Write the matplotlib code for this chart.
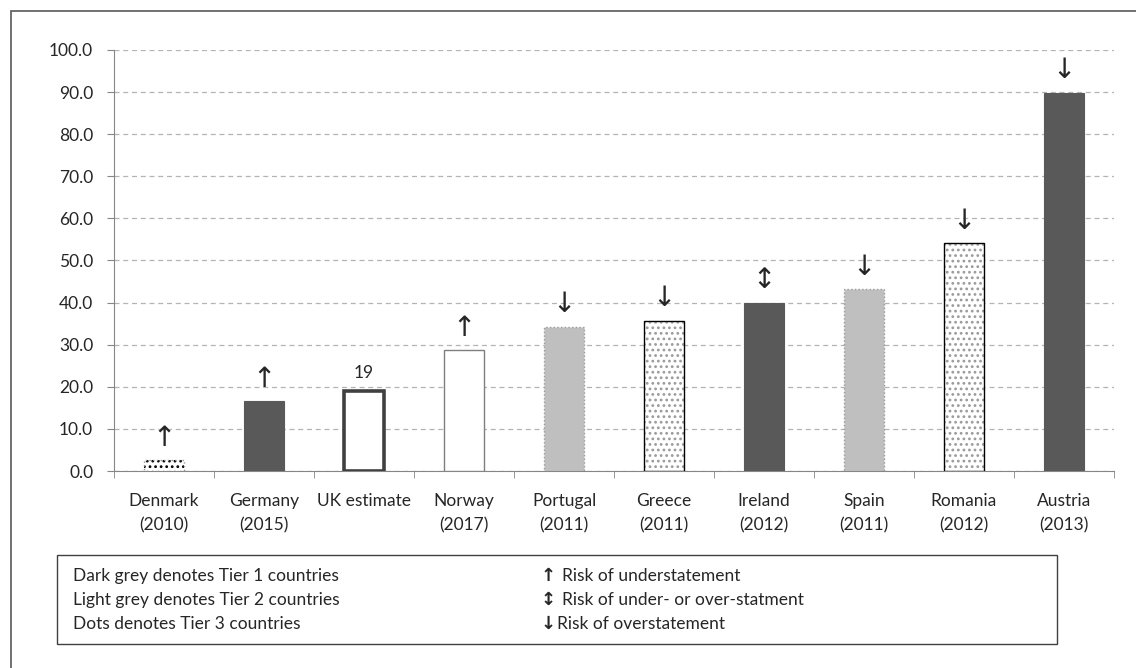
import matplotlib.pyplot as plt
from matplotlib.patches import Rectangle

# data
countries = ["Denmark\n(2010)", "Germany\n(2015)", "UK estimate", "Norway\n(2017)",
             "Portugal\n(2011)", "Greece\n(2011)", "Ireland\n(2012)", "Spain\n(2011)",
             "Romania\n(2012)", "Austria\n(2013)"]
values = [2.6, 16.6, 19.1, 28.7, 34.3, 35.7, 40.0, 43.2, 54.1, 89.9]
tiers = ["dots_sparse", "dark", "uk", "plain", "light", "dots", "dark", "light", "dots", "dark"]
risk = ["↑", "↑", "", "↑", "↓", "↓", "↕", "↓", "↓", "↓"]
yticks = [0, 10, 20, 30, 40, 50, 60, 70, 80, 90, 100]

plt.rcParams["font.family"] = ["Lato", "DejaVu Sans"]
plt.rcParams["hatch.linewidth"] = 1.2

W, H = 1136, 668
fig = plt.figure(figsize=(W / 100, H / 100), dpi=100)

# outer border
fig.patches.append(Rectangle((11 / W, -0.05), 1.1, (H - 11) / H + 0.05, transform=fig.transFigure,
                             fill=False, edgecolor="#595959", linewidth=1.2))

ax = fig.add_axes([114 / W, (H - 471) / H, 1000 / W, 421 / H])
x = list(range(len(values)))

for i, v in enumerate(values):
    t = tiers[i]
    if t == "dark":
        ax.bar(i, v, width=0.4, color="#595959", edgecolor="#595959", linewidth=0.8, zorder=3)
    elif t == "light":
        ax.bar(i, v, width=0.4, color="#bfbfbf", edgecolor="#9a9a9a", linewidth=1, linestyle=":", zorder=3)
    elif t == "uk":
        ax.bar(i, v, width=0.4, color="white", edgecolor="#404040", linewidth=2.6, zorder=3)
    elif t == "plain":
        ax.bar(i, v, width=0.4, color="white", edgecolor="#7f7f7f", linewidth=1, zorder=3)
    elif t == "dots":
        ax.bar(i, v, width=0.4, color="white", edgecolor="#9a9a9a", hatch="...", linewidth=0, zorder=3)
        ax.bar(i, v, width=0.4, fill=False, edgecolor="black", linewidth=1, zorder=4)
    elif t == "dots_sparse":
        ax.bar(i, v, width=0.4, color="white", edgecolor="black", hatch="...", linewidth=0, zorder=3)
        ax.bar(i, v, width=0.4, fill=False, edgecolor="#9a9a9a", linewidth=1, linestyle=":", zorder=4)
    if risk[i]:
        ax.annotate(risk[i], (i, v), xytext=(0, 6), textcoords="offset points",
                    ha="center", va="bottom", fontsize=20, family="DejaVu Sans", color="#262626")

# UK value label
uk = tiers.index("uk")
ax.annotate(f"{values[uk]:.0f}", (uk, values[uk]), xytext=(0, 7), textcoords="offset points",
            ha="center", va="bottom", fontsize=12.5, color="#262626")

ax.set_xlim(-0.5, len(values) - 0.5)
ax.set_ylim(0, 100)
ax.set_yticks(yticks)
ax.set_yticklabels([f"{t:.1f}" for t in yticks], fontsize=12.5, color="#262626")
ax.set_xticks(x)
ax.set_xticklabels(countries, fontsize=12.5, color="#262626", linespacing=1.6)
ax.tick_params(axis="x", length=0, pad=16)
ax.set_xticks([i + 0.5 for i in range(-1, len(values))], minor=True)
ax.tick_params(axis="x", which="minor", length=5, color="#868686")
ax.tick_params(axis="y", length=5, color="#868686", pad=10)

ax.grid(axis="y", color="#b4b4b4", linestyle=(0, (4, 3)), linewidth=0.9, zorder=0)
ax.set_axisbelow(True)
for s in ["top", "right"]:
    ax.spines[s].set_visible(False)
ax.spines["left"].set_color("#868686")
ax.spines["bottom"].set_color("#868686")

# explanation box
fig.patches.append(Rectangle((57 / W, (H - 644) / H), 1000 / W, 89 / H, transform=fig.transFigure,
                             fill=False, edgecolor="#404040", linewidth=1))
left_lines = ["Dark grey denotes Tier 1 countries", "Light grey denotes Tier 2 countries",
              "Dots denotes Tier 3 countries"]
arrow_keys = ["↑", "↕", "↓"]
right_lines = ["Risk of understatement", "Risk of under- or over-statment", "Risk of overstatement"]
text_x = [562, 562, 557]
for k, yy in enumerate([576, 600, 624]):
    fig.text(73 / W, (H - yy) / H, left_lines[k], fontsize=12.5, va="center", color="#262626")
    fig.text(541 / W, (H - yy) / H, arrow_keys[k], fontsize=13, va="center", family="DejaVu Sans",
             weight="bold", color="#262626")
    fig.text(text_x[k] / W, (H - yy) / H, right_lines[k], fontsize=12.5, va="center", color="#262626")

fig.savefig("out.png", dpi=100)
